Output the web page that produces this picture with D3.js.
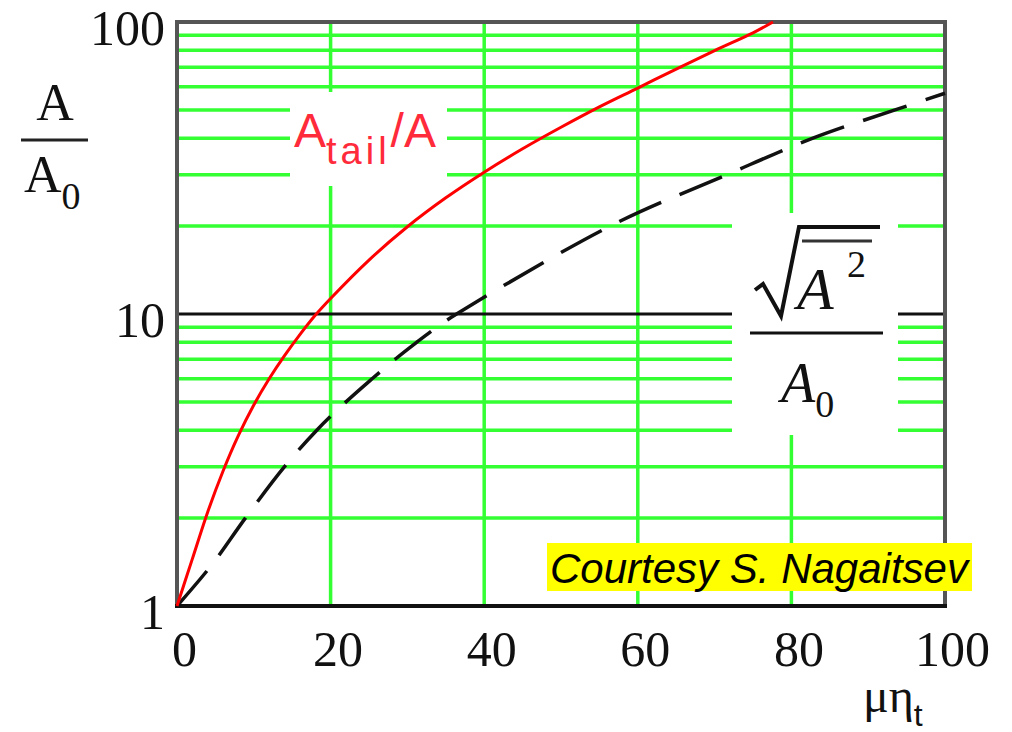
<!DOCTYPE html>
<html>
<head>
<meta charset="utf-8">
<script src="https://cdn.jsdelivr.net/npm/d3@7"></script>
<style>
    body { margin: 0; background: #fff; }
    svg { display: block; }
</style>
</head>
<body>
<div id="chart"></div>
<script>
//Chart data

//x axis ticks and y axis ticks
var xTicks = [0, 20, 40, 60, 80, 100];
var yTicks = [1, 10, 100];

//Gridlines (green), the decade line at 10 is drawn black
var xGrid = [20, 40, 60, 80];
var yGrid = [2, 3, 4, 5, 6, 7, 8, 9, 20, 30, 40, 50, 60, 70, 80, 90];
var yMajor = [10];

//A_tail / A (red solid curve)
var tailX = [0, 2, 4, 6, 8, 10, 12, 14, 16, 18, 20, 25, 30, 35, 40, 45, 50, 55, 60, 65, 70, 75, 77.6];
var tailY = [1, 1.45, 2.1, 2.9, 3.84, 4.88, 6.0, 7.2, 8.5, 9.9, 11.3, 15.3, 19.9, 25.0, 30.6, 36.8, 43.6, 51.2, 59.4, 69.0, 79.8, 91.8, 100];

//sqrt(<A^2>) / A0 (black dashed curve)
var rmsX = [0, 4.5, 8.9, 14.0, 18.2, 22.0, 25.4, 28.4, 31.2, 33.8, 36.4, 56.4, 71.6, 82.8, 93.5, 100];
var rmsY = [1, 1.38, 2, 3, 4, 5, 6, 7, 8, 9, 10, 20, 30, 40, 50, 57];

//Layout configuration
var configuration = {
    width: 1012,
    height: 732,
    left: 177,
    right: 945,
    top: 22,
    bottom: 606
};

//Create svg
var svg = d3.select("#chart")
    .append("svg")
        .attr("width", configuration.width)
        .attr("height", configuration.height)
        .style("background-color", "#FFF");

//Scales
var scaleX = d3.scaleLinear()
    .domain([0, 100])
    .range([configuration.left, configuration.right]);

var scaleY = d3.scaleLog()
    .domain([1, 100])
    .range([configuration.bottom, configuration.top]);

var green = "#33ff33";

//Horizontal green gridlines
svg.append("g")
    .selectAll("line")
    .data(yGrid)
    .enter()
    .append("line")
        .attr("x1", configuration.left)
        .attr("x2", configuration.right)
        .attr("y1", function(d) { return scaleY(d); })
        .attr("y2", function(d) { return scaleY(d); })
        .attr("stroke", green)
        .attr("stroke-width", 3.5);

//Vertical green gridlines
svg.append("g")
    .selectAll("line")
    .data(xGrid)
    .enter()
    .append("line")
        .attr("x1", function(d) { return scaleX(d); })
        .attr("x2", function(d) { return scaleX(d); })
        .attr("y1", configuration.top)
        .attr("y2", configuration.bottom)
        .attr("stroke", green)
        .attr("stroke-width", 3.5);

//Black line at 10
svg.append("g")
    .selectAll("line")
    .data(yMajor)
    .enter()
    .append("line")
        .attr("x1", configuration.left)
        .attr("x2", configuration.right)
        .attr("y1", function(d) { return scaleY(d); })
        .attr("y2", function(d) { return scaleY(d); })
        .attr("stroke", "#111")
        .attr("stroke-width", 3);

//White boxes behind the curve labels (they cut the grid)
svg.append("rect")
    .attr("x", 290).attr("y", 92)
    .attr("width", 157).attr("height", 94)
    .attr("fill", "#fff");

svg.append("rect")
    .attr("x", 732).attr("y", 213)
    .attr("width", 166).attr("height", 222)
    .attr("fill", "#fff");

//Frame
svg.append("rect")
    .attr("x", configuration.left)
    .attr("y", configuration.top)
    .attr("width", configuration.right - configuration.left)
    .attr("height", configuration.bottom - configuration.top)
    .attr("fill", "none")
    .attr("stroke", "#555")
    .attr("stroke-width", 4);

svg.append("line")
    .attr("x1", configuration.left - 2)
    .attr("x2", configuration.right + 2)
    .attr("y1", configuration.bottom)
    .attr("y2", configuration.bottom)
    .attr("stroke", "#111")
    .attr("stroke-width", 4);

//Curves
var line = d3.line()
    .x(function(d) { return scaleX(d[0]); })
    .y(function(d) { return scaleY(d[1]); })
    .curve(d3.curveCatmullRom.alpha(0.5));

svg.append("path")
    .datum(d3.zip(rmsX, rmsY))
    .attr("d", line)
    .attr("fill", "none")
    .attr("stroke", "#111")
    .attr("stroke-width", 3.5)
    .attr("stroke-dasharray", "46,20");

svg.append("path")
    .datum(d3.zip(tailX, tailY))
    .attr("d", line)
    .attr("fill", "none")
    .attr("stroke", "#ff0000")
    .attr("stroke-width", 3);

//Axes (labels only, the frame is drawn above)
var serif = "'Liberation Serif', 'Times New Roman', serif";

var axisX = svg.append("g")
    .attr("transform", "translate(0," + configuration.bottom + ")")
    .call(d3.axisBottom(scaleX).tickValues(xTicks).tickSize(0).tickPadding(24));

var axisY = svg.append("g")
    .attr("transform", "translate(" + configuration.left + ",0)")
    .call(d3.axisLeft(scaleY).tickValues(yTicks).tickSize(0).tickPadding(12)
        .tickFormat(d3.format("d")));

[axisX, axisY].forEach(function(axis) {
    axis.select(".domain").remove();
    axis.selectAll("text")
        .attr("fill", "#111")
        .style("font-family", serif)
        .style("font-size", "50px");
});
axisX.selectAll("text").attr("dx", 7);
axisY.selectAll("text").attr("dy", "0.45em");

//y axis title: A / A0
var yTitle = svg.append("g")
    .style("font-family", serif)
    .attr("fill", "#111");

yTitle.append("text")
    .attr("x", 55).attr("y", 120)
    .attr("text-anchor", "middle")
    .style("font-size", "52px")
    .text("A");

yTitle.append("line")
    .attr("x1", 21).attr("x2", 88)
    .attr("y1", 140).attr("y2", 140)
    .attr("stroke", "#222")
    .attr("stroke-width", 3);

var a0 = yTitle.append("text")
    .attr("x", 24).attr("y", 192)
    .style("font-size", "52px");
a0.append("tspan").text("A");
a0.append("tspan")
    .attr("dy", 17)
    .style("font-size", "38px")
    .text("0");

//x axis title: mu eta_t
var xTitle = svg.append("text")
    .attr("x", 863).attr("y", 712)
    .attr("fill", "#111")
    .style("font-family", serif)
    .style("font-size", "48px");
xTitle.append("tspan").text("μη");
xTitle.append("tspan")
    .attr("dy", 14)
    .style("font-family", "'Liberation Sans', Arial, sans-serif")
    .style("font-size", "32px")
    .text("t");

//Red curve label: A_tail/A
var tailLabel = svg.append("text")
    .attr("x", 294).attr("y", 147)
    .attr("fill", "#ff2a3a")
    .style("font-family", "'Liberation Sans', Arial, sans-serif")
    .style("font-size", "48px");
tailLabel.append("tspan").text("A");
tailLabel.append("tspan")
    .attr("dy", 17)
    .style("font-size", "38px")
    .style("letter-spacing", "4px")
    .text("tail");
tailLabel.append("tspan")
    .attr("dy", -17)
    .text("/A");

//Black curve label: sqrt(<A^2>) / A0
var rmsLabel = svg.append("g")
    .attr("fill", "#111")
    .style("font-family", serif)
    .style("font-style", "italic");

rmsLabel.append("path")
    .attr("d", "M755,290 L763,284 L781,316 L799,227 L880,227")
    .attr("fill", "none")
    .attr("stroke", "#111")
    .attr("stroke-width", 4)
    .attr("stroke-linejoin", "miter");

rmsLabel.append("line")
    .attr("x1", 802).attr("x2", 872)
    .attr("y1", 241).attr("y2", 241)
    .attr("stroke", "#333")
    .attr("stroke-width", 3);

rmsLabel.append("text")
    .attr("x", 797).attr("y", 309)
    .style("font-size", "60px")
    .text("A");

rmsLabel.append("text")
    .attr("x", 847).attr("y", 277)
    .style("font-style", "normal")
    .style("font-size", "38px")
    .text("2");

rmsLabel.append("line")
    .attr("x1", 750).attr("x2", 883)
    .attr("y1", 333).attr("y2", 333)
    .attr("stroke", "#111")
    .attr("stroke-width", 3);

var rmsA0 = rmsLabel.append("text")
    .attr("x", 781).attr("y", 402)
    .style("font-size", "56px");
rmsA0.append("tspan").text("A");
rmsA0.append("tspan")
    .attr("dy", 15)
    .style("font-style", "normal")
    .style("font-size", "38px")
    .text("0");

//Courtesy note
svg.append("rect")
    .attr("x", 547).attr("y", 543)
    .attr("width", 425).attr("height", 48)
    .attr("fill", "#ffff00");

svg.append("text")
    .attr("x", 550).attr("y", 583)
    .attr("fill", "#000")
    .style("font-family", "'Liberation Sans', Arial, sans-serif")
    .style("font-style", "italic")
    .style("font-size", "42px")
    .attr("textLength", 418)
    .attr("lengthAdjust", "spacingAndGlyphs")
    .text("Courtesy S. Nagaitsev");
</script>
</body>
</html>
